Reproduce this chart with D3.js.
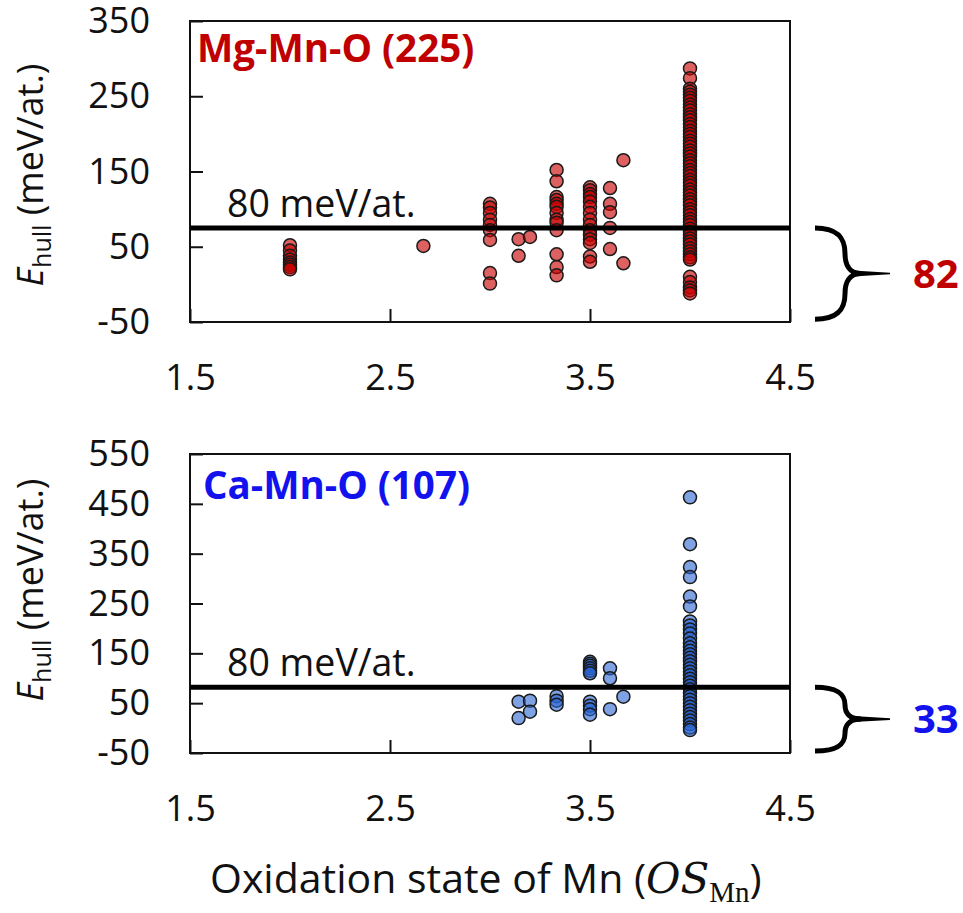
<!DOCTYPE html>
<html lang="en">
  <head>
    <meta charset="UTF-8" />
    <title>Ehull vs oxidation state of Mn</title>
    <style>
      body {
        margin: 0;
        background: #fff;
      }

      text {
        font-family: "Open Sans", sans-serif;
        fill: #111;
      }

      .frame {
        fill: none;
        stroke: #111;
        stroke-width: 2px;
      }

      .cut-line {
        stroke: #000;
        stroke-width: 5px;
      }

      .brace {
        fill: none;
        stroke: #000;
        stroke-width: 5px;
      }

      .axis line {
        stroke: #111;
        stroke-width: 2px;
      }

      .axis text {
        font-size: 36px;
        fill: #111;
      }

      .dot {
        stroke: #1a1a1a;
        stroke-width: 1.5px;
      }
    </style>
  </head>
  <body>
    <script src="https://cdn.jsdelivr.net/npm/d3@7"></script>
    <script>

      // x ticks shared by both panels
      var xTicks = [1.5, 2.5, 3.5, 4.5];

      // Mg-Mn-O panel
      var mgTicks = [-50, 50, 150, 250, 350];
      var mgCut = 75;
      var mgOS = [2.0, 2.667, 3.0, 3.143, 3.2, 3.333, 3.5, 3.6, 3.667, 4.0];
      var mgEhull = [
        [52, 45, 38, 33, 29, 26, 23, 20],
        [51],
        [107, 102, 95, 86, 79, 72, 59, 15, 1],
        [60, 38],
        [63],
        [152, 137, 116, 112, 107, 103, 95, 86, 82, 72, 40, 23, 12],
        [129, 125, 120, 116, 110, 103, 95, 86, 79, 72, 66, 60, 55, 37, 30],
        [128, 107, 96, 75, 47],
        [165, 28],
        [287, 274, 260, 256, 252, 248, 244, 239, 235, 231, 226, 222, 218, 213, 209,
         204, 200, 196, 191, 187, 183, 178, 174, 170, 165, 161, 157, 152, 148, 144,
         139, 135, 131, 126, 122, 118, 113, 109, 105, 100, 96, 92, 87, 83, 79, 74,
         70, 66, 61, 57, 53, 48, 44, 40, 36, 33, 10, 3, -4, -8, -12]
      ];

      // Ca-Mn-O panel
      var caTicks = [-50, 50, 150, 250, 350, 450, 550];
      var caCut = 82;
      var caOS = [3.143, 3.2, 3.333, 3.5, 3.6, 3.667, 4.0];
      var caEhull = [
        [53, 20],
        [55, 33],
        [64, 55, 47],
        [133, 129, 125, 120, 115, 110, 53, 45, 38, 27],
        [120, 100, 38],
        [63],
        [463, 369, 323, 303, 264, 244, 214, 206, 198, 190, 180, 170, 162, 155, 148,
         141, 134, 127, 120, 113, 106, 99, 92, 85, 78, 71, 64, 57, 50, 43, 36, 29,
         22, 15, 8, 1, -4]
      ];

      var w = 963,
          h = 913;

      var svg = d3.select("body").append("svg")
        .attr("width", w)
        .attr("height", h);

      var xScale = d3.scaleLinear()
        .domain([1.5, 4.5])
        .range([190, 790]);

      function flatten(os, vals) {
        var out = [];
        os.forEach(function(x, i) {
          vals[i].forEach(function(v) { out.push({ os: x, e: v }); });
        });
        return out;
      }

      function panel(opts) {
        var yScale = d3.scaleLinear()
          .domain([opts.ticks[0], opts.ticks[opts.ticks.length - 1]])
          .range([opts.bottom, opts.top]);

        var g = svg.append("g");

        // axes, ticks pointing inward
        g.append("g")
          .attr("class", "axis")
          .attr("transform", "translate(190,0)")
          .call(d3.axisLeft(yScale)
            .tickValues(opts.ticks)
            .tickFormat(function(d) { return String(d); })
            .tickSizeInner(-13)
            .tickSizeOuter(0)
            .tickPadding(40))
          .call(function(a) { a.select(".domain").remove(); });

        g.append("g")
          .attr("class", "axis")
          .attr("transform", "translate(0," + opts.bottom + ")")
          .call(d3.axisBottom(xScale)
            .tickValues(xTicks)
            .tickFormat(function(d) { return d.toFixed(1); })
            .tickSizeInner(-13)
            .tickSizeOuter(0)
            .tickPadding(42))
          .call(function(a) { a.select(".domain").remove(); });

        g.append("rect")
          .attr("class", "frame")
          .attr("x", xScale(1.5))
          .attr("y", opts.top)
          .attr("width", xScale(4.5) - xScale(1.5))
          .attr("height", opts.bottom - opts.top);

        // points
        g.selectAll(".dot")
          .data(flatten(opts.os, opts.vals))
          .enter()
          .append("circle")
          .attr("class", "dot")
          .attr("cx", function(d) { return xScale(d.os); })
          .attr("cy", function(d) { return yScale(d.e); })
          .attr("r", 6.5)
          .attr("fill", opts.dotFill);

        // 80 meV/at. line
        var cy = yScale(opts.cut);
        g.append("line")
          .attr("class", "cut-line")
          .attr("x1", xScale(1.5))
          .attr("x2", xScale(4.5))
          .attr("y1", cy)
          .attr("y2", cy);

        g.append("text")
          .attr("x", 227)
          .attr("y", cy - 11)
          .style("font-size", "37.5px")
          .text("80 meV/at.");

        // title
        g.append("text")
          .attr("x", opts.titleX)
          .attr("y", opts.titleY)
          .style("font-size", "38.5px")
          .style("font-weight", "bold")
          .style("fill", opts.color)
          .text(opts.title);

        // y label
        var yl = g.append("text")
          .attr("transform", "translate(43," + opts.labelY + ") rotate(-90)")
          .attr("text-anchor", "middle")
          .style("font-size", "36px");
        yl.append("tspan").style("font-style", "italic").text("E");
        yl.append("tspan").attr("dy", 8).style("font-size", "25px").text("hull");
        yl.append("tspan").attr("dy", -8).text(" (meV/at.)");

        // brace from the line down to the bottom of the box
        var b0 = cy,
            b1 = opts.bottom - (opts.bottom - cy) * 0.03,
            bm = (b0 + b1) / 2,
            bh = b1 - b0;
        var bx = 815;
        var p = d3.path();
        p.moveTo(bx, b0);
        p.bezierCurveTo(bx + 24, b0, bx + 30, b0 + bh * 0.12, bx + 30, b0 + bh * 0.28);
        p.bezierCurveTo(bx + 30, bm - bh * 0.1, bx + 34, bm, bx + 46, bm);
        p.bezierCurveTo(bx + 34, bm, bx + 30, bm + bh * 0.1, bx + 30, b1 - bh * 0.28);
        p.bezierCurveTo(bx + 30, b1 - bh * 0.12, bx + 24, b1, bx, b1);
        g.append("path")
          .attr("class", "brace")
          .attr("d", p.toString());

        g.append("path")
          .attr("d", "M" + (bx + 38) + "," + (bm - 3) + " L" + (bx + 75) + "," + (bm - 0.8) +
                " L" + (bx + 75) + "," + (bm + 0.8) + " L" + (bx + 38) + "," + (bm + 3) + "Z")
          .attr("fill", "#000");

        g.append("text")
          .attr("x", 913)
          .attr("y", bm + 14)
          .style("font-size", "40px")
          .style("font-weight", "bold")
          .style("fill", opts.color)
          .text(opts.count);
      }

      panel({
        top: 21, bottom: 322,
        ticks: mgTicks, cut: mgCut,
        os: mgOS, vals: mgEhull,
        dotFill: "rgba(200,0,0,0.62)",
        color: "#c00000",
        title: "Mg-Mn-O (225)", titleX: 197, titleY: 62,
        labelY: 175,
        count: "82"
      });

      panel({
        top: 454, bottom: 753,
        ticks: caTicks, cut: caCut,
        os: caOS, vals: caEhull,
        dotFill: "rgba(40,100,210,0.6)",
        color: "#1212ee",
        title: "Ca-Mn-O (107)", titleX: 203, titleY: 499,
        labelY: 590,
        count: "33"
      });

      // shared x label
      var xl = svg.append("text")
        .attr("x", 210)
        .attr("y", 893)
        .style("font-size", "41px");
      xl.append("tspan").text("Oxidation state of Mn (");
      xl.append("tspan")
        .style("font-family", "'DejaVu Serif', serif")
        .style("font-style", "italic")
        .style("font-size", "42px")
        .text("OS");
      xl.append("tspan")
        .attr("dy", 9)
        .style("font-family", "'Liberation Serif', serif")
        .style("font-size", "29px")
        .text("Mn");
      xl.append("tspan")
        .attr("dy", -9)
        .text(")");

    </script>
  </body>
</html>
